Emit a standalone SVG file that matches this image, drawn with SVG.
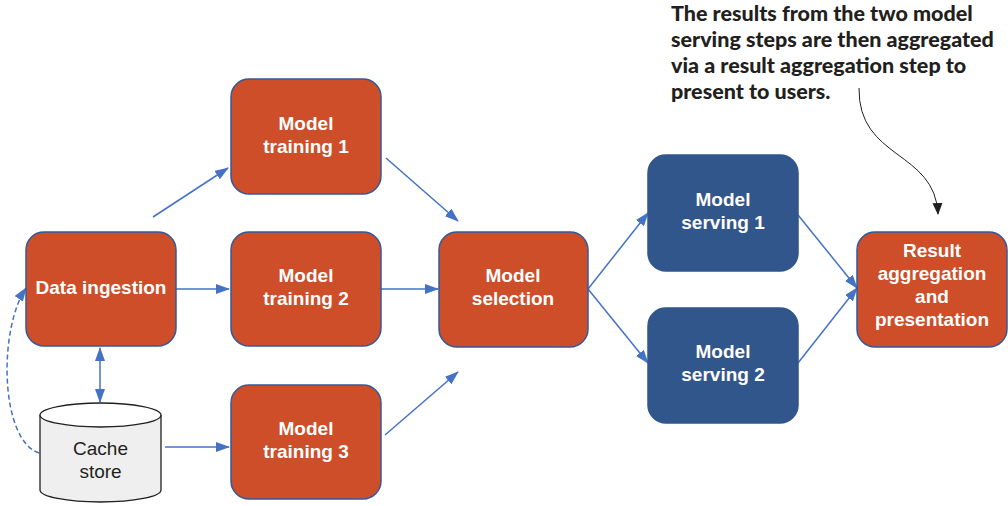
<svg xmlns="http://www.w3.org/2000/svg" width="1008" height="506" viewBox="0 0 1008 506">
<style>
.o{fill:#CD4E28;stroke:#34599A;stroke-width:1.5}
.b{fill:#31568C;stroke:#31568C;stroke-width:1.5}
.t{font-family:"Liberation Sans",Arial,sans-serif;font-weight:bold;font-size:19px;fill:#fff;text-anchor:middle}
.c{stroke:#4472C4;stroke-width:1.5;fill:none}
.note{font-family:Lato,"Liberation Sans",sans-serif;font-weight:900;font-size:21.5px;fill:#231f20}
.cs{font-family:"Liberation Sans",Arial,sans-serif;font-size:19px;fill:#231f20;text-anchor:middle}
</style>
<defs>
<marker id="a" markerUnits="userSpaceOnUse" markerWidth="14" markerHeight="10" refX="13" refY="5" orient="auto-start-reverse" viewBox="0 0 14 10"><path d="M0,0 L14,5 L0,10 z" fill="#4472C4"/></marker>
<marker id="k" markerUnits="userSpaceOnUse" markerWidth="12" markerHeight="10" refX="11" refY="5" orient="auto" viewBox="0 0 12 10"><path d="M0,0 L12,5 L0,10 z" fill="#231f20"/></marker>
</defs>
<g id="connectors">
<line class="c" x1="153" y1="217" x2="228" y2="168" marker-end="url(#a)"/>
<line class="c" x1="386" y1="158" x2="458" y2="221" marker-end="url(#a)"/>
<line class="c" x1="176" y1="289" x2="229" y2="289" marker-end="url(#a)"/>
<line class="c" x1="381" y1="289" x2="438" y2="289" marker-end="url(#a)"/>
<line class="c" x1="385" y1="435" x2="458" y2="372" marker-end="url(#a)"/>
<line class="c" x1="165" y1="447" x2="229" y2="447" marker-end="url(#a)"/>
<line class="c" x1="100" y1="348" x2="100" y2="402" marker-start="url(#a)" marker-end="url(#a)"/>
<path class="c" d="M39,453 C0,440 -2,330 26,288" stroke-dasharray="5,3" marker-end="url(#a)"/>
<line class="c" x1="588" y1="289" x2="648" y2="213" marker-end="url(#a)"/>
<line class="c" x1="588" y1="289" x2="648" y2="363" marker-end="url(#a)"/>
<line class="c" x1="798" y1="215" x2="857" y2="288" marker-end="url(#a)"/>
<line class="c" x1="798" y1="363" x2="857" y2="288" marker-end="url(#a)"/>
<path d="M859,88 C858,160 935,150 938,214" fill="none" stroke="#231f20" stroke-width="1" marker-end="url(#k)"/>
</g>
<g id="data-ingestion"><rect class="o" x="26" y="232" width="150" height="114" rx="18"/><text class="t" x="101" y="294">Data ingestion</text></g>
<g id="model-training-1"><rect class="o" x="231" y="79" width="150" height="115" rx="18"/><text class="t" x="306" y="130">Model</text><text class="t" x="306" y="153">training 1</text></g>
<g id="model-training-2"><rect class="o" x="231" y="232" width="150" height="114" rx="18"/><text class="t" x="306" y="282">Model</text><text class="t" x="306" y="305">training 2</text></g>
<g id="model-training-3"><rect class="o" x="231" y="385" width="150" height="114" rx="18"/><text class="t" x="306" y="435">Model</text><text class="t" x="306" y="458">training 3</text></g>
<g id="model-selection"><rect class="o" x="439" y="232" width="149" height="115" rx="18"/><text class="t" x="513" y="282">Model</text><text class="t" x="513" y="305">selection</text></g>
<g id="model-serving-1"><rect class="b" x="648" y="155" width="150" height="116" rx="18"/><text class="t" x="723" y="206">Model</text><text class="t" x="723" y="229">serving 1</text></g>
<g id="model-serving-2"><rect class="b" x="648" y="308" width="150" height="115" rx="18"/><text class="t" x="723" y="358">Model</text><text class="t" x="723" y="381">serving 2</text></g>
<g id="result-aggregation"><rect class="o" x="857" y="232" width="150" height="115" rx="18"/><text class="t" x="932" y="257">Result</text><text class="t" x="932" y="280">aggregation</text><text class="t" x="932" y="303">and</text><text class="t" x="932" y="326">presentation</text></g>
<g id="cache-store">
<path d="M40,415 L40,490 A60.5,12 0 0 0 161,490 L161,415" fill="#EEEFEE" stroke="#231f20" stroke-width="1.3"/>
<ellipse cx="100.5" cy="415" rx="60.5" ry="12" fill="#fff" stroke="#231f20" stroke-width="1.3"/>
<text class="cs" x="100.5" y="455">Cache</text>
<text class="cs" x="100.5" y="478">store</text>
</g>
<g id="annotation">
<text class="note" x="671" y="21">The results from the two model</text>
<text class="note" x="671" y="47">serving steps are then aggregated</text>
<text class="note" x="671" y="73">via a result aggregation step to</text>
<text class="note" x="671" y="99">present to users.</text>
</g>
</svg>
